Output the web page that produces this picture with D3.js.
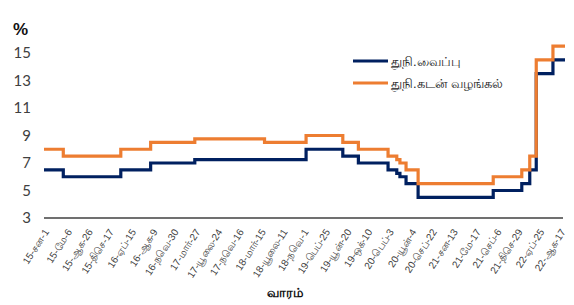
<!DOCTYPE html>
<html>
<head>
<meta charset="utf-8">
<title>SDFR / SLFR</title>
<style>
  body { margin: 0; background: #fff; }
  .xaxis path { stroke: #404040; stroke-width: 1.3px; }
  .xaxis line { display: none; }
  .xaxis text { font-family: "Liberation Sans", "Noto Sans", sans-serif; font-size: 10px; fill: #404040; }
  .yaxis path, .yaxis line { display: none; }
  .yaxis text { font-family: "Lato", "Liberation Sans", sans-serif; font-size: 15px; fill: #404040; }
  .series { fill: none; stroke-width: 3.2px; }
</style>
</head>
<body>
<script src="https://d3js.org/d3.v7.min.js"></script>
<script>

// policy rate change dates (effective), last entry = end of data
var changeDates = ["2015-01-01","2015-04-15","2016-02-19","2016-07-29","2017-03-24","2018-04-04",
  "2018-11-14","2019-05-31","2019-08-23","2020-01-30","2020-03-17","2020-04-03","2020-05-06",
  "2020-07-10","2021-08-19","2022-01-20","2022-03-04","2022-04-08","2022-07-07","2022-09-10"];

// standing deposit facility rate (navy)
var depositRate = [6.5,6.0,6.5,7.0,7.25,7.25,8.0,7.5,7.0,6.5,6.25,6.0,5.5,4.5,5.0,5.5,6.5,13.5,14.5,14.5];
// standing lending facility rate (orange)
var lendingRate = [8.0,7.5,8.0,8.5,8.75,8.5,9.0,8.5,8.0,7.5,7.25,7.0,6.5,5.5,6.0,6.5,7.5,14.5,15.5,15.5];

var seriesNames = ["துநி.வைப்பு", "துநி.கடன்  வழங்கல்"];
var seriesColors = ["#002060", "#ED7D31"];

var tickDates = ["2015-01-01","2015-05-06","2015-08-26","2015-12-17","2016-04-15","2016-08-09",
  "2016-11-30","2017-03-27","2017-07-24","2017-11-16","2018-03-15","2018-07-11","2018-11-01",
  "2019-02-25","2019-06-20","2019-10-10","2020-02-03","2020-06-04","2020-09-22","2021-01-13",
  "2021-05-17","2021-09-06","2021-12-29","2022-04-25","2022-08-17"];
var tickLabels = ["15-சன-1","15-மே-6","15-ஆக-26","15-திசெ-17","16-ஏப்-15","16-ஆக-9","16-நவெ-30",
  "17-மார்-27","17-யூலை-24","17-நவெ-16","18-மார்-15","18-யூலை-11","18-நவெ-1","19-பெப்-25",
  "19-யூன்-20","19-ஒக்-10","20-பெப்-3","20-யூன்-4","20-செப்-22","21-சன-13","21-மே-17",
  "21-செப்-6","21-திசெ-29","22-ஏப்-25","22-ஆக-17"];
var yTicks = [3,5,7,9,11,13,15];

var W = 574, H = 305;
var parse = d3.timeParse("%Y-%m-%d");

var svg = d3.select("body").append("svg")
  .attr("width", W).attr("height", H);

var x = d3.scaleTime()
  .domain([parse(changeDates[0]), parse(changeDates[changeDates.length-1])])
  .range([44, 565]);

var y = d3.scaleLinear().domain([3, 15]).range([218, 53]);

// x axis
var tickMap = {};
tickDates.forEach(function(d, i){ tickMap[+parse(d)] = tickLabels[i]; });

var xg = svg.append("g")
  .attr("class", "xaxis")
  .attr("transform", "translate(0,218)")
  .call(d3.axisBottom(x)
    .tickValues(tickDates.map(parse))
    .tickSizeOuter(0)
    .tickFormat(function(d){ return tickMap[+d]; }));
xg.select(".domain").attr("d", "M44,0H563");
xg.selectAll("text")
  .attr("text-anchor", "end")
  .attr("x", 0).attr("y", 0).attr("dy", "0.35em")
  .attr("transform", "translate(2,12) rotate(-57)");

// y axis
svg.append("g")
  .attr("class", "yaxis")
  .attr("transform", "translate(40,0)")
  .call(d3.axisLeft(y).tickValues(yTicks).tickSize(0).tickPadding(9));

svg.append("text")
  .attr("x", 13).attr("y", 35)
  .text("%")
  .style("font-family", "Liberation Sans, sans-serif")
  .style("font-weight", "bold")
  .style("font-size", "17px")
  .style("fill", "#111");

// lines
var line = d3.line()
  .x(function(d){ return x(d.date); })
  .y(function(d){ return y(d.v); })
  .curve(d3.curveStepAfter);

[depositRate, lendingRate].forEach(function(vals, i){
  var pts = changeDates.map(function(d, j){ return {date: parse(d), v: vals[j]}; });
  svg.append("path")
    .attr("class", "series")
    .attr("d", line(pts))
    .attr("stroke", seriesColors[i]);
});

// legend
var leg = svg.append("g").attr("transform", "translate(353,61)");
seriesNames.forEach(function(n, i){
  var g = leg.append("g").attr("transform", "translate(0," + (i*22) + ")");
  g.append("line").attr("x1", 0).attr("x2", 35).attr("y1", 0).attr("y2", 0)
    .attr("stroke", seriesColors[i]).attr("stroke-width", 3.2);
  g.append("text").attr("x", 38).attr("y", 0).attr("dy", "0.35em")
    .text(n)
    .style("font-family", "Liberation Sans, sans-serif")
    .style("font-size", "13px")
    .style("fill", "#222");
});

// x title
svg.append("text")
  .attr("x", 285).attr("y", 297)
  .attr("text-anchor", "middle")
  .text("வாரம்")
  .style("font-family", "Liberation Sans, sans-serif")
  .style("font-weight", "bold")
  .style("font-size", "13px")
  .style("fill", "#111");

</script>
</body>
</html>
